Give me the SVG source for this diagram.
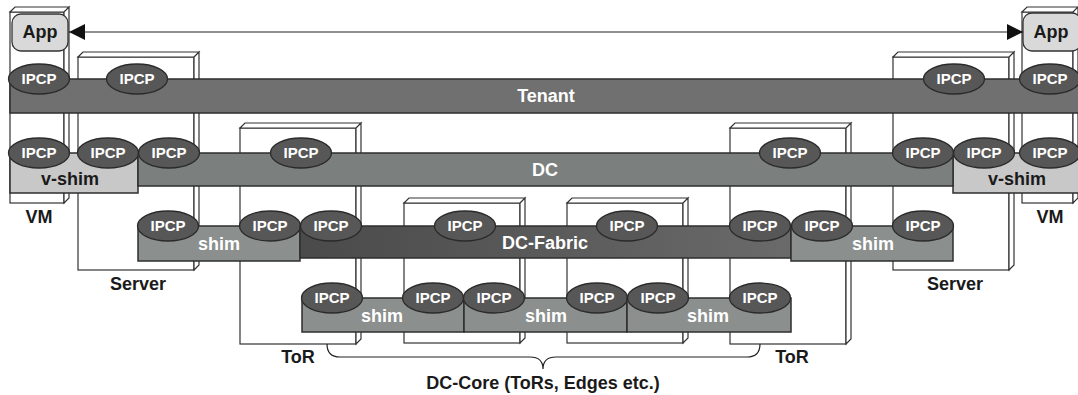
<svg xmlns="http://www.w3.org/2000/svg" width="1078" height="395" viewBox="0 0 1078 395">
<defs>
<style>
.box{fill:#fff;stroke:#333;stroke-width:1.2}
.app{fill:#d9d9d9;stroke:#333;stroke-width:1.3}
.bar{stroke:#2e2e2e;stroke-width:1.5}
.tenant{fill:#707070}
.dc{fill:#7b807f}
.vshim{fill:#c8c8c8}
.shim{fill:#8b908f}
.fabric{fill:url(#fab)}
.ip{fill:#575757;stroke:#2a2a2a;stroke-width:1.3}
.ipt{font-family:"Liberation Sans",Arial,sans-serif;font-weight:bold;font-size:15px;fill:#fff;text-anchor:middle}
.wl{font-family:"Liberation Sans",Arial,sans-serif;font-weight:bold;font-size:18px;fill:#fff;text-anchor:middle}
.bl{font-family:"Liberation Sans",Arial,sans-serif;font-weight:bold;font-size:18px;fill:#1a1a1a;text-anchor:middle}
.con{fill:none;stroke:#222;stroke-width:1.2}
</style>
<linearGradient id="fab" x1="0" y1="0" x2="1" y2="0">
<stop offset="0" stop-color="#4a4a4a"/>
<stop offset="1" stop-color="#6a6a6a"/>
</linearGradient>
<marker id="ah" viewBox="0 0 16 16" markerWidth="16" markerHeight="16" refX="16" refY="8" markerUnits="userSpaceOnUse" orient="auto-start-reverse">
<path d="M0,0 L16,8 L0,16 Z" fill="#111"/>
</marker>
</defs>
<rect width="1078" height="395" fill="#fff"/>

<!-- boxes -->
<g id="vm-left">
<rect class="box" x="10" y="12" width="54" height="191"/>
<path class="box" d="M10,12 L15,7 L69,7 L64,12 Z M64,12 L69,7 L69,198 L64,203 Z"/>
<text class="bl" x="39" y="223" font-size="17">VM</text>
</g>
<g id="vm-right">
<rect class="box" x="1022" y="12" width="51" height="191"/>
<path class="box" d="M1022,12 L1027,7 L1078,7 L1073,12 Z M1073,12 L1078,7 L1078,198 L1073,203 Z"/>
<text class="bl" x="1050" y="223" font-size="17">VM</text>
</g>
<g id="server-left">
<rect class="box" x="78" y="57" width="116" height="213"/>
<path class="box" d="M78,57 L83,52 L199,52 L194,57 Z M194,57 L199,52 L199,265 L194,270 Z"/>
<text class="bl" x="138" y="290">Server</text>
</g>
<g id="server-right">
<rect class="box" x="893" y="57" width="116" height="213"/>
<path class="box" d="M893,57 L898,52 L1014,52 L1009,57 Z M1009,57 L1014,52 L1014,265 L1009,270 Z"/>
<text class="bl" x="955" y="290">Server</text>
</g>
<g id="tor-left">
<rect class="box" x="240" y="128" width="116" height="216"/>
<path class="box" d="M240,128 L245,123 L361,123 L356,128 Z M356,128 L361,123 L361,339 L356,344 Z"/>
<text class="bl" x="298" y="363" font-size="17">ToR</text>
</g>
<g id="core-1">
<rect class="box" x="404" y="203" width="116" height="140"/>
<path class="box" d="M404,203 L409,198 L525,198 L520,203 Z M520,203 L525,198 L525,338 L520,343 Z"/>
</g>
<g id="core-2">
<rect class="box" x="567" y="203" width="116" height="140"/>
<path class="box" d="M567,203 L572,198 L688,198 L683,203 Z M683,203 L688,198 L688,338 L683,343 Z"/>
</g>
<g id="tor-right">
<rect class="box" x="730" y="128" width="116" height="216"/>
<path class="box" d="M730,128 L735,123 L851,123 L846,128 Z M846,128 L851,123 L851,339 L846,344 Z"/>
<text class="bl" x="792" y="363" font-size="17">ToR</text>
</g>

<g id="app-left">
<rect class="app" x="12" y="14" width="56" height="37" rx="9"/>
<text class="bl" x="40" y="38">App</text>
</g>
<g id="app-right">
<rect class="app" x="1023" y="13" width="58" height="38" rx="9"/>
<text class="bl" x="1051" y="38">App</text>
</g>

<!-- layers -->
<g id="tenant">
<rect class="bar tenant" x="10" y="79" width="1075" height="34"/>
<text class="wl" x="546" y="102" font-size="19">Tenant</text>
<ellipse class="ip" cx="39" cy="79" rx="30.5" ry="15"/><text class="ipt" x="39" y="84">IPCP</text>
<ellipse class="ip" cx="137" cy="79" rx="30.5" ry="15"/><text class="ipt" x="137" y="84">IPCP</text>
<ellipse class="ip" cx="954" cy="79" rx="30.5" ry="15"/><text class="ipt" x="954" y="84">IPCP</text>
<ellipse class="ip" cx="1050" cy="79" rx="30.5" ry="15"/><text class="ipt" x="1050" y="84">IPCP</text>
</g>
<g id="v-shim-left">
<rect class="bar vshim" x="10" y="153" width="128" height="40"/>
<text class="bl" x="70" y="185">v-shim</text>
</g>
<g id="v-shim-right">
<rect class="bar vshim" x="953" y="153" width="130" height="40"/>
<text class="bl" x="1017" y="185">v-shim</text>
</g>
<g id="dc">
<rect class="bar dc" x="138" y="153" width="815" height="33"/>
<text class="wl" x="545" y="176" font-size="19">DC</text>
</g>
<g id="dc-ipcps">
<ellipse class="ip" cx="39" cy="153" rx="30.5" ry="15"/><text class="ipt" x="39" y="158">IPCP</text>
<ellipse class="ip" cx="108" cy="153" rx="30.5" ry="15"/><text class="ipt" x="108" y="158">IPCP</text>
<ellipse class="ip" cx="169" cy="153" rx="30.5" ry="15"/><text class="ipt" x="169" y="158">IPCP</text>
<ellipse class="ip" cx="301" cy="153" rx="30.5" ry="15"/><text class="ipt" x="301" y="158">IPCP</text>
<ellipse class="ip" cx="790" cy="153" rx="30.5" ry="15"/><text class="ipt" x="790" y="158">IPCP</text>
<ellipse class="ip" cx="923" cy="153" rx="30.5" ry="15"/><text class="ipt" x="923" y="158">IPCP</text>
<ellipse class="ip" cx="984" cy="153" rx="30.5" ry="15"/><text class="ipt" x="984" y="158">IPCP</text>
<ellipse class="ip" cx="1050" cy="153" rx="30.5" ry="15"/><text class="ipt" x="1050" y="158">IPCP</text>
</g>
<g id="shim-server-left">
<rect class="bar shim" x="138" y="226" width="162" height="35"/>
<text class="wl" x="219" y="250">shim</text>
<ellipse class="ip" cx="168" cy="226" rx="30.5" ry="15"/><text class="ipt" x="168" y="231">IPCP</text>
<ellipse class="ip" cx="270" cy="226" rx="30.5" ry="15"/><text class="ipt" x="270" y="231">IPCP</text>
</g>
<g id="dc-fabric">
<rect class="bar fabric" x="300" y="226" width="491" height="32"/>
<text class="wl" x="545" y="249" font-size="19">DC-Fabric</text>
<ellipse class="ip" cx="331" cy="226" rx="30.5" ry="15"/><text class="ipt" x="331" y="231">IPCP</text>
<ellipse class="ip" cx="465" cy="226" rx="30.5" ry="15"/><text class="ipt" x="465" y="231">IPCP</text>
<ellipse class="ip" cx="627" cy="226" rx="30.5" ry="15"/><text class="ipt" x="627" y="231">IPCP</text>
<ellipse class="ip" cx="760" cy="226" rx="30.5" ry="15"/><text class="ipt" x="760" y="231">IPCP</text>
</g>
<g id="shim-server-right">
<rect class="bar shim" x="791" y="226" width="162" height="35"/>
<text class="wl" x="873" y="250">shim</text>
<ellipse class="ip" cx="822" cy="226" rx="30.5" ry="15"/><text class="ipt" x="822" y="231">IPCP</text>
<ellipse class="ip" cx="923" cy="226" rx="30.5" ry="15"/><text class="ipt" x="923" y="231">IPCP</text>
</g>
<g id="shim-core-1">
<rect class="bar shim" x="302" y="298" width="162" height="34"/>
<text class="wl" x="382" y="322">shim</text>
<ellipse class="ip" cx="332" cy="298" rx="30.5" ry="15"/><text class="ipt" x="332" y="303">IPCP</text>
<ellipse class="ip" cx="433" cy="298" rx="30.5" ry="15"/><text class="ipt" x="433" y="303">IPCP</text>
</g>
<g id="shim-core-2">
<rect class="bar shim" x="464" y="298" width="163" height="34"/>
<text class="wl" x="546" y="322">shim</text>
<ellipse class="ip" cx="494" cy="298" rx="30.5" ry="15"/><text class="ipt" x="494" y="303">IPCP</text>
<ellipse class="ip" cx="597" cy="298" rx="30.5" ry="15"/><text class="ipt" x="597" y="303">IPCP</text>
</g>
<g id="shim-core-3">
<rect class="bar shim" x="627" y="298" width="164" height="34"/>
<text class="wl" x="708" y="322">shim</text>
<ellipse class="ip" cx="658" cy="298" rx="30.5" ry="15"/><text class="ipt" x="658" y="303">IPCP</text>
<ellipse class="ip" cx="760" cy="298" rx="30.5" ry="15"/><text class="ipt" x="760" y="303">IPCP</text>
</g>

<g id="connectors">
<line class="con" x1="69" y1="32" x2="1023" y2="32" marker-start="url(#ah)" marker-end="url(#ah)"/>
<path class="con" d="M327,344 Q327,357 340,357 L530,357 Q543,357 543,369 Q543,357 556,357 L747,357 Q760,357 760,344"/>
</g>
<g id="dc-core-label">
<text class="bl" x="543" y="389" font-size="19">DC-Core (ToRs, Edges etc.)</text>
</g>
</svg>
